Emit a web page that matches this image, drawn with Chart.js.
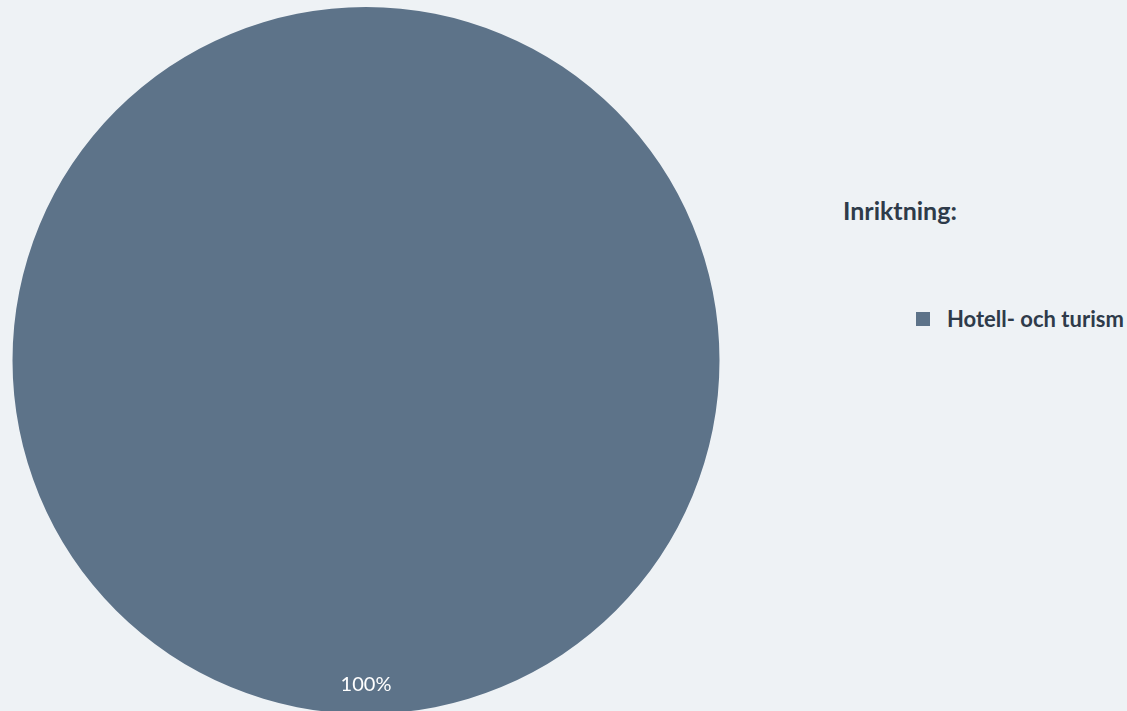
<!DOCTYPE html>
<html>
<head>
<meta charset="utf-8">
<script src="https://cdn.jsdelivr.net/npm/chart.js@4"></script>
<style>
    html, body {
        margin: 0;
        padding: 0;
        width: 1127px;
        height: 711px;
        overflow: hidden;
        background: #eef2f5;
        font-family: Lato, "Open Sans", sans-serif;
    }
    #chart-wrap {
        position: absolute;
        left: 0;
        top: 0;
        width: 732px;
        height: 714px;
    }
    .legend-title {
        position: absolute;
        left: 843px;
        top: 195px;
        font-size: 25px;
        font-weight: bold;
        color: #2e3b4a;
    }
    .legend-item {
        position: absolute;
        left: 916px;
        top: 305px;
        font-size: 22px;
        font-weight: bold;
        color: #2e3b4a;
        white-space: nowrap;
        display: flex;
        align-items: center;
    }
    .legend-box {
        display: inline-block;
        width: 14px;
        height: 14px;
        margin-right: 17px;
    }
</style>
</head>
<body>
<div id="chart-wrap"><canvas id="pieChart"></canvas></div>
<div class="legend-title" id="legendTitle"></div>
<div class="legend-item" id="legendItem"></div>

<script>
// Chart data
const legendTitle = 'Inriktning:';
const categories = ['Hotell- och turism'];
const shares = [100];
const colors = ['#5d7389'];

document.addEventListener('DOMContentLoaded', function() {
    initLegend();
    initPieChart();
});

/**
 * Build the HTML legend on the right
 */
function initLegend() {
    document.getElementById('legendTitle').textContent = legendTitle;
    const item = document.getElementById('legendItem');
    categories.forEach((cat, i) => {
        const box = document.createElement('span');
        box.className = 'legend-box';
        box.style.background = colors[i];
        const label = document.createElement('span');
        label.textContent = cat;
        item.appendChild(box);
        item.appendChild(label);
    });
}

/**
 * Percentage labels inside the slices
 */
const sliceLabels = {
    id: 'sliceLabels',
    afterDatasetsDraw(chart) {
        const ctx = chart.ctx;
        const meta = chart.getDatasetMeta(0);
        const total = shares.reduce((a, b) => a + b, 0);
        ctx.save();
        ctx.fillStyle = '#ffffff';
        ctx.font = '20px Lato, "Open Sans", sans-serif';
        ctx.textAlign = 'center';
        ctx.textBaseline = 'middle';
        meta.data.forEach((arc, i) => {
            const p = arc.getProps(['x', 'y', 'startAngle', 'endAngle', 'outerRadius']);
            const mid = (p.startAngle + p.endAngle) / 2;
            const r = p.outerRadius * 0.918;
            const pct = Math.round(shares[i] / total * 100) + '%';
            ctx.fillText(pct, p.x + Math.cos(mid) * r, p.y + Math.sin(mid) * r);
        });
        ctx.restore();
    }
};

function initPieChart() {
    const ctx = document.getElementById('pieChart');
    new Chart(ctx, {
        type: 'pie',
        data: {
            labels: categories,
            datasets: [{
                data: shares,
                backgroundColor: colors,
                borderWidth: 0
            }]
        },
        options: {
            responsive: true,
            maintainAspectRatio: false,
            animation: false,
            layout: { padding: { top: 7 } },
            plugins: {
                legend: { display: false },
                tooltip: { enabled: false }
            }
        },
        plugins: [sliceLabels]
    });
}
</script>
</body>
</html>
